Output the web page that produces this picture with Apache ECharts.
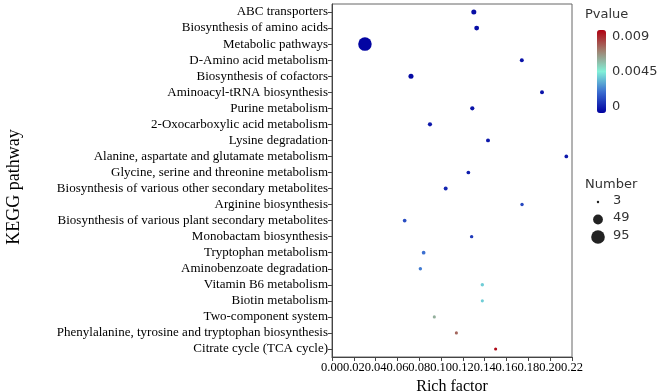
<!DOCTYPE html>
<html>
<head>
<meta charset="utf-8">
<script src="https://cdn.jsdelivr.net/npm/echarts@6/dist/echarts.min.js"></script>
<style>
html, body { margin: 0; padding: 0; background: #fff; }
#chart { width: 661px; height: 392px; }
</style>
</head>
<body>
<div id="chart"></div>
<script>
var pathways = ['ABC transporters', 'Biosynthesis of amino acids', 'Metabolic pathways',
  'D-Amino acid metabolism', 'Biosynthesis of cofactors', 'Aminoacyl-tRNA biosynthesis',
  'Purine metabolism', '2-Oxocarboxylic acid metabolism', 'Lysine degradation',
  'Alanine, aspartate and glutamate metabolism', 'Glycine, serine and threonine metabolism',
  'Biosynthesis of various other secondary metabolites', 'Arginine biosynthesis',
  'Biosynthesis of various plant secondary metabolites', 'Monobactam biosynthesis',
  'Tryptophan metabolism', 'Aminobenzoate degradation', 'Vitamin B6 metabolism',
  'Biotin metabolism', 'Two-component system',
  'Phenylalanine, tyrosine and tryptophan biosynthesis', 'Citrate cycle (TCA cycle)'];
var richFactor = [0.130, 0.1326, 0.0302, 0.174, 0.0724, 0.1925, 0.1286, 0.0898, 0.143,
  0.2148, 0.125, 0.1042, 0.1742, 0.0666, 0.128, 0.084, 0.081, 0.1378, 0.1378, 0.0938, 0.114, 0.150];
var geneNumber = [13, 12, 93, 8, 13, 8, 9, 9, 8, 7, 7, 8, 6, 7, 6, 7, 6, 6, 5, 5, 5, 5];
var pValue = [0.0003, 0.0003, 0.0001, 0.0004, 0.0002, 0.0004, 0.0004, 0.0005, 0.0005, 0.0005,
  0.0006, 0.0008, 0.0015, 0.0016, 0.0012, 0.0023, 0.0025, 0.0039, 0.0039, 0.0058, 0.0072, 0.0088];
var xTicks = [0, 0.02, 0.04, 0.06, 0.08, 0.10, 0.12, 0.14, 0.16, 0.18, 0.20, 0.22];
var pLabels = ['0.009', '0.0045', '0'];
var sizeLegend = [3, 49, 95];

function dotSize(n) { return 1.4 * Math.sqrt(n); }

var points = pathways.map(function (p, i) {
  return [richFactor[i], p, pValue[i], geneNumber[i]];
});

var myChart = echarts.init(document.getElementById('chart'));

var legendFont = '13px "DejaVu Sans"';
var legendItems = [
  { type: 'text', left: 585, top: 8, style: { text: 'Pvalue', font: legendFont, fill: '#333' } },
  { type: 'text', left: 585, top: 178, style: { text: 'Number', font: legendFont, fill: '#333' } },
  // y axis title, placed by hand like the original
  { type: 'text', x: 14, y: 187, rotation: Math.PI / 2,
    style: { text: 'KEGG pathway', font: '18px "Liberation Serif"', fill: '#000', align: 'center', verticalAlign: 'middle' } }
];
pLabels.forEach(function (t, i) {
  legendItems.push({ type: 'text', left: 612, top: 30 + i * 35, style: { text: t, font: legendFont, fill: '#333' } });
});
sizeLegend.forEach(function (n, i) {
  var cy = 202 + i * 17.5;
  legendItems.push({ type: 'circle', shape: { cx: 598, cy: cy, r: dotSize(n) / 2 }, style: { fill: '#222' } });
  legendItems.push({ type: 'text', left: 613, top: cy - 8, style: { text: String(n), font: legendFont, fill: '#333' } });
});

var option = {
  animation: false,
  backgroundColor: '#fff',
  grid: {
    left: 332, right: 89, top: 4, bottom: 35,
    outerBoundsMode: 'none', containLabel: false,
    show: true, borderColor: '#666', borderWidth: 1
  },
  xAxis: {
    type: 'value',
    min: 0, max: 0.22, interval: 0.02,
    name: 'Rich factor',
    nameLocation: 'middle',
    nameGap: 19,
    nameTextStyle: { fontFamily: 'Liberation Serif', fontSize: 16, color: '#000' },
    axisLine: { show: true, lineStyle: { color: '#444' } },
    axisTick: { show: true, length: 4, lineStyle: { color: '#444' } },
    splitLine: { show: false },
    axisLabel: {
      fontFamily: 'Liberation Serif', fontSize: 12.5, color: '#000', margin: 4,
      hideOverlap: false, showMinLabel: true, showMaxLabel: true,
      formatter: function (v) { return v.toFixed(2); }
    }
  },
  yAxis: {
    type: 'category',
    data: pathways,
    inverse: true,
    axisLine: { show: true, lineStyle: { color: '#444' } },
    axisTick: { show: true, alignWithLabel: true, length: 4, lineStyle: { color: '#444' } },
    axisLabel: { fontFamily: 'Liberation Serif', fontSize: 13, color: '#000', margin: 4, interval: 0 },
    splitLine: { show: false }
  },
  visualMap: {
    type: 'continuous',
    dimension: 2,
    min: 0,
    max: 0.009,
    left: 597,
    top: 30,
    padding: 0,
    itemWidth: 9,
    itemHeight: 83,
    text: null,
    showLabel: false,
    calculable: false,
    hoverLink: false,
    inRange: { color: ['#0000a0', '#3a6cd0', '#82f0d8', '#a08070', '#b00010'] }
  },
  graphic: legendItems,
  series: [{
    type: 'scatter',
    data: points,
    symbolSize: function (d) { return dotSize(d[3]); },
    itemStyle: { opacity: 1 }
  }]
};
myChart.setOption(option);
</script>
</body>
</html>
